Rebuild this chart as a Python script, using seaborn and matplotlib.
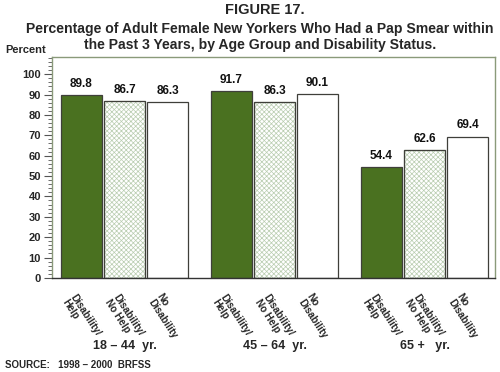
import pandas as pd
import matplotlib
matplotlib.use('Agg')
import matplotlib.pyplot as plt
import seaborn as sns
from matplotlib.patches import Rectangle
from matplotlib.ticker import MultipleLocator

age_groups = ['18 \u2013 44  yr.', '45 \u2013 64  yr.', '65 +   yr.']
status = ['Disability/\nHelp', 'Disability/\nNo Help', 'No\nDisability']
help_vals = [89.8, 91.7, 54.4]
nohelp_vals = [86.7, 86.3, 62.6]
nodis_vals = [86.3, 90.1, 69.4]

rows = []
for i, g in enumerate(age_groups):
    for s, v in zip(status, [help_vals[i], nohelp_vals[i], nodis_vals[i]]):
        rows.append({'age': g, 'status': s, 'pct': v})
df = pd.DataFrame(rows)

sns.set_style('white')
plt.rcParams['font.family'] = ['Liberation Sans', 'DejaVu Sans']
plt.rcParams['font.weight'] = 'bold'
plt.rcParams['hatch.linewidth'] = 0.5

fig = plt.figure(figsize=(5, 3.72), dpi=100)
ax = fig.add_axes([0.104, 0.253, 0.886, 0.594])

green = '#4a7f12'
ax = sns.barplot(data=df, x='age', y='pct', hue='status', hue_order=status,
                 palette=[green, 'white', 'white'], width=0.86, gap=0.05,
                 edgecolor='#3f3f3a', linewidth=0.9, legend=False, ax=ax)

# hatch the "no help" bars in light green, then redraw a dark outline
n = len(age_groups)
for k, p in enumerate(list(ax.patches)):
    if k // n == 1:
        p.set_hatch('xxxxxxx')
        p.set_edgecolor('#b9cdb0')
        ax.add_patch(Rectangle((p.get_x(), p.get_y()), p.get_width(), p.get_height(),
                               facecolor='none', edgecolor='#3f3f3a', linewidth=0.9))

bars = ax.patches[:3 * n]

ax.set_ylim(0, 108.5)
ax.set_xlim(-0.483, 2.47)
ax.yaxis.set_major_locator(MultipleLocator(10))
ax.yaxis.set_minor_locator(MultipleLocator(2))
ax.tick_params(axis='y', which='major', left=True, length=6, width=0.8,
               color='#555555', labelsize=8, pad=2)
ax.tick_params(axis='y', which='minor', left=True, length=3, width=0.6,
               color='#555555')
ax.set_xticks([])
ax.set_xlabel('')
ax.set_ylabel('')
for sp in ax.spines.values():
    sp.set_color('#8a9a7a')
    sp.set_linewidth(1.0)
ax.spines['bottom'].set_color('#333333')

# value labels and category labels
for k, p in enumerate(bars):
    hue_idx = k // n
    xc = p.get_x() + p.get_width() / 2
    h = p.get_height()
    ax.text(xc, h + 2.5, f'{h:.1f}', ha='center', va='bottom',
            fontsize=8.5, fontweight='bold', color='#111111')
    ax.text(xc - 0.03, -7, status[hue_idx], rotation=-57, rotation_mode='anchor',
            ha='left', va='top', fontsize=7.2, fontweight='bold',
            linespacing=1.0, clip_on=False)

for i, g in enumerate(age_groups):
    ax.text(i, -33.5, g, ha='center', va='center', fontsize=9,
            fontweight='bold', clip_on=False)

fig.text(0.53, 0.972, 'FIGURE 17.', ha='center', va='center',
         fontsize=10.5, fontweight='bold')
fig.text(0.52, 0.922, 'Percentage of Adult Female New Yorkers Who Had a Pap Smear within',
         ha='center', va='center', fontsize=10.1, fontweight='bold')
fig.text(0.52, 0.879, 'the Past 3 Years, by Age Group and Disability Status.',
         ha='center', va='center', fontsize=10.1, fontweight='bold')
fig.text(0.01, 0.866, 'Percent', ha='left', va='center', fontsize=8,
         fontweight='bold')
fig.text(0.01, 0.018, 'SOURCE:   1998 \u2013 2000  BRFSS', ha='left', va='center',
         fontsize=7, fontweight='bold')

fig.savefig('out.png', dpi=100)
